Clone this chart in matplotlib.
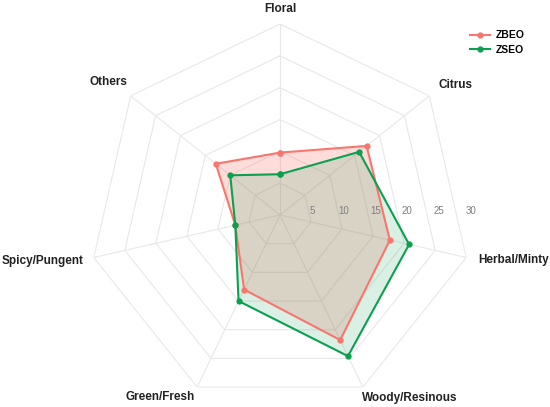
import numpy as np
import matplotlib
matplotlib.use("Agg")
import matplotlib.pyplot as plt
from matplotlib.transforms import offset_copy

plt.rcParams["font.family"] = ["Liberation Sans", "DejaVu Sans"]

# aroma categories, clockwise from the top
categories = ["Floral", "Citrus", "Herbal/Minty", "Woody/Resinous",
              "Green/Fresh", "Spicy/Pungent", "Others"]
zbeo = [9.8, 17.4, 17.7, 21.8, 13.0, 7.2, 12.9]
zseo = [6.4, 15.9, 20.8, 24.6, 15.0, 7.2, 10.0]
rings = [5, 10, 15, 20, 25, 30]

red = "#F8766D"
green = "#0BA04F"
grid_col = "#e8e8e8"

n = len(categories)
angles = np.linspace(0, 2 * np.pi, n, endpoint=False)
closed = np.append(angles, angles[0])

fig = plt.figure(figsize=(5.5, 4.07), dpi=100)
ax = fig.add_axes([89 / 550, 1 / 407, 382 / 550, 382 / 407], projection="polar")
ax.set_theta_zero_location("N")
ax.set_theta_direction(-1)
ax.set_ylim(0, 30)
ax.grid(False)
ax.spines["polar"].set_visible(False)
ax.set_xticks([])
ax.set_yticks([])
ax.patch.set_alpha(0)

# heptagon grid and spokes
for r in rings:
    ax.plot(closed, [r] * (n + 1), color=grid_col, lw=0.8, zorder=1)
for a in angles:
    ax.plot([a, a], [0, 30], color=grid_col, lw=0.8, zorder=1)

# series
for vals, col, name, alpha in [(zbeo, red, "ZBEO", 0.25), (zseo, green, "ZSEO", 0.15)]:
    v = np.append(vals, vals[0])
    ax.fill(closed, v, color=col, alpha=alpha, lw=0, zorder=2)
    ax.plot(closed, v, color=col, lw=1.5, marker="o", ms=3.5, label=name, zorder=3)

# radial tick labels along the east direction
tr = offset_copy(ax.transData, fig=fig, x=0, y=4, units="dots")
for r in rings:
    ax.text(np.pi / 2, r, str(r), transform=tr, ha="center", va="center",
            fontsize=7, color="#7f7f7f")

# category labels
label_r = [32.4, 34.3, 37.3, 35.3, 34.3, 38.0, 34.1]
label_a = [0, 53.5, 101, 144.6, 213.4, 259, 307.7]
for name, a, r in zip(categories, label_a, label_r):
    ax.text(np.deg2rad(a), r, name, ha="center", va="center",
            fontsize=8.5, fontweight="bold", color="#222222")

leg = fig.legend(loc="upper right", bbox_to_anchor=(534 / 550, 1 - 21 / 407),
                 frameon=False, fontsize=7.5, handlelength=1.9,
                 handletextpad=0.6, labelspacing=0.45)
for t in leg.get_texts():
    t.set_fontweight("bold")

fig.savefig("out.png", dpi=100)
